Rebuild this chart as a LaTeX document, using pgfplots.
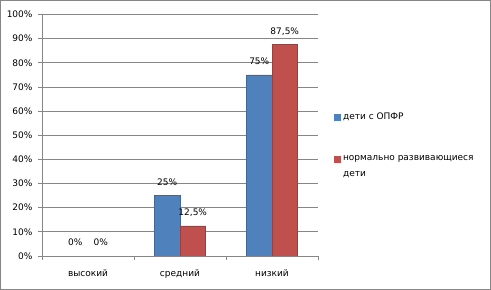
\documentclass[border=0pt]{standalone}
\usepackage{pgfplots}
\pgfplotsset{compat=1.18}
\usepackage{fontspec}
\setmainfont{DejaVu Sans}
\definecolor{cblue}{HTML}{4F81BD}
\definecolor{cred}{HTML}{C0504D}
\definecolor{cgrid}{HTML}{868686}
\begin{document}
\begin{tikzpicture}[font=\fontsize{9bp}{11bp}\selectfont]
\path[use as bounding box] (0,0) rectangle (491bp,290bp);
\draw[cgrid, line width=1bp] (0.5bp,0.5bp) rectangle (490.5bp,289.5bp);
\begin{axis}[
  at={(42bp,34bp)}, anchor=south west,
  scale only axis, width=276bp, height=241.5bp,
  xmin=-0.5, xmax=2.5, ymin=0, ymax=100,
  axis x line*=bottom, axis y line*=left,
  axis line style={cgrid, line width=0.8bp},
  ybar=0bp, bar width=25.5bp,
  ytick={0,10,...,100},
  yticklabels={0\%,10\%,20\%,30\%,40\%,50\%,60\%,70\%,80\%,90\%,100\%},
  ymajorgrids, grid style={cgrid, line width=0.8bp},
  tick style={cgrid, line width=0.8bp},
  major tick length=4bp, tick align=outside,
  xtick={-0.5,0.5,1.5,2.5}, xticklabels={},
  extra x ticks={0,1,2},
  extra x tick labels={высокий,средний,низкий},
  extra x tick style={major tick length=0pt, grid=none},
  xticklabel style={yshift=-10bp},
  yticklabel style={xshift=-2bp},
  point meta=explicit symbolic,
  nodes near coords,
  every node near coord/.append style={anchor=center, yshift=13.5bp, text=black},
  legend style={at={(1.056,0.60)}, anchor=north west, draw=none, fill=none,
    inner sep=0pt, row sep=30bp,
    nodes={inner xsep=3bp}},
  legend cell align=left,
]
\addplot[fill=cblue, draw=cblue!80!black,
  legend image code/.code={\fill[cblue] (0bp,-3bp) rectangle (6bp,3bp);}]
  coordinates {(0,0) [0\%] (1,25) [25\%] (2,75) [75\%]};
\addplot[fill=cred, draw=cred!80!black,
  legend image code/.code={\fill[cred] (0bp,-3bp) rectangle (6bp,3bp);}]
  coordinates {(0,0) [0\%] (1,12.5) [{12,5\%}] (2,87.5) [{87,5\%}]};
\addlegendentry{дети с ОПФР}
\addlegendentry{\makebox[0pt][l]{\raisebox{-16bp}[0pt][0pt]{дети}}нормально развивающиеся}
\end{axis}
\end{tikzpicture}
\end{document}
